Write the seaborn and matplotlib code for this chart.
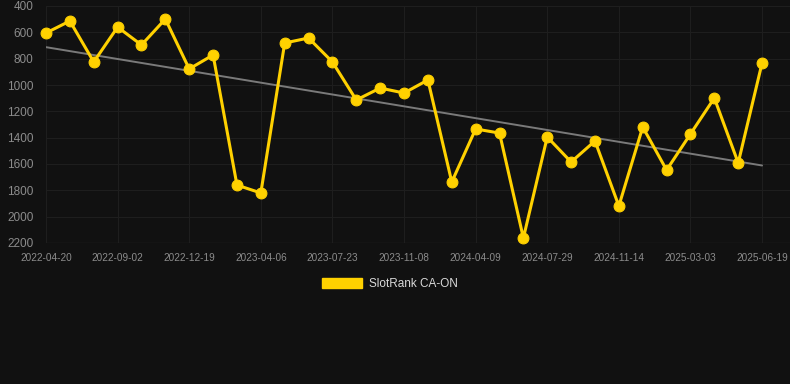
"""
plot.py
SlotRank CA-ON rank history with linear trend (dark theme).
Output: out.png (790x384)
"""

import numpy as np
import pandas as pd
import matplotlib.pyplot as plt
from matplotlib.patches import Patch
import seaborn as sns

# ── Data ──────────────────────────────────────────────────────────────────────

DATES = [
    "2022-04-20", "2022-06-05", "2022-07-19", "2022-09-02", "2022-10-08",
    "2022-11-13", "2022-12-19", "2023-01-24", "2023-02-28", "2023-04-06",
    "2023-05-12", "2023-06-17", "2023-07-23", "2023-08-28", "2023-10-03",
    "2023-11-08", "2023-12-29", "2024-02-18", "2024-04-09", "2024-05-16",
    "2024-06-22", "2024-07-29", "2024-09-03", "2024-10-09", "2024-11-14",
    "2024-12-20", "2025-01-26", "2025-03-03", "2025-04-08", "2025-05-14",
    "2025-06-19",
]
RANKS = [
    605, 514, 825, 560, 696, 499, 878, 772, 1760, 1820,
    681, 643, 825, 1114, 1023, 1061, 962, 1737, 1334, 1365,
    2162, 1395, 1585, 1425, 1919, 1319, 1646, 1372, 1099, 1592,
    833,
]
Y_TICKS = [400, 600, 800, 1000, 1200, 1400, 1600, 1800, 2000, 2200]
SERIES_NAME = "SlotRank CA-ON"

# ── Style ─────────────────────────────────────────────────────────────────────

BG      = "#111111"
GRID    = "#1e1e1e"
YELLOW  = "#FFD100"
TREND   = "#7a7a7a"
TICK_C  = "#8c8c8c"

sns.set_theme(style="dark")
plt.rcParams["font.family"] = ["Liberation Sans", "DejaVu Sans"]


def main():
    df = pd.DataFrame({"idx": np.arange(len(RANKS)), "date": DATES, "rank": RANKS})
    slope, intercept = np.polyfit(df["idx"], df["rank"], 1)
    df["trend"] = slope * df["idx"] + intercept

    fig = plt.figure(figsize=(7.9, 3.84), dpi=100, facecolor=BG)
    ax = fig.add_axes([46 / 790, 1 - 243 / 384, 1 - 46 / 790, (243 - 6) / 384])
    ax.set_facecolor(BG)

    sns.lineplot(data=df, x="idx", y="trend", ax=ax, color=TREND,
                 linewidth=1.4, zorder=2)
    sns.lineplot(data=df, x="idx", y="rank", ax=ax, color=YELLOW,
                 linewidth=2.2, marker="o", markersize=7.8,
                 markeredgecolor=YELLOW, zorder=3, clip_on=False)

    ax.set_xlim(0, 31.17)
    ax.set_ylim(2200, 400)
    ax.set_yticks(Y_TICKS)
    ax.set_yticklabels([str(v) for v in Y_TICKS], fontsize=8.5, color=TICK_C)
    tick_pos = list(range(0, len(DATES), 3))
    ax.set_xticks(tick_pos)
    ax.set_xticklabels([DATES[i] for i in tick_pos], fontsize=7.2, color=TICK_C)
    ax.tick_params(axis="y", length=0, pad=9)
    ax.tick_params(axis="x", length=0, pad=7)

    ax.grid(True, color=GRID, linewidth=0.8)
    for s in ax.spines.values():
        s.set_visible(False)
    ax.axhline(2200, color="#2a2a2a", linewidth=0.9, zorder=1)
    ax.set_xlabel("")
    ax.set_ylabel("")

    handle = Patch(facecolor=YELLOW, edgecolor=YELLOW)
    fig.legend([handle], [SERIES_NAME], loc="center", bbox_to_anchor=(390 / 790, 1 - 284 / 384),
               frameon=False, fontsize=8.5, labelcolor="#d9d9d9",
               handlelength=3.4, handleheight=0.9, handletextpad=0.55)

    fig.savefig("out.png", dpi=100, facecolor=BG)
    plt.close(fig)


if __name__ == "__main__":
    main()
